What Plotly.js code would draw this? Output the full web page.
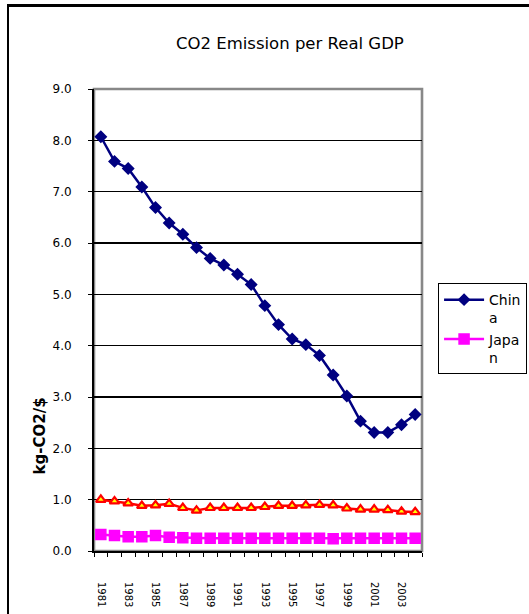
<!DOCTYPE html>
<html>
<head>
<meta charset="utf-8">
<script src="https://cdn.plot.ly/plotly-3.0.1.min.js"></script>
<style>
  html, body { margin: 0; padding: 0; background: #fff; overflow: hidden; }
  #frame { position: absolute; left: 7px; top: 4px; width: 600px; height: 700px;
           border-left: 2px solid #000; border-top: 3px solid #000; pointer-events: none; z-index: 2; }
  #chart { position: absolute; left: 0; top: 0; width: 529px; height: 614px; }
</style>
</head>
<body>
<div id="chart"></div>
<div id="frame"></div>
<script>
// Data
const years = [1981,1982,1983,1984,1985,1986,1987,1988,1989,1990,1991,1992,
               1993,1994,1995,1996,1997,1998,1999,2000,2001,2002,2003,2004];
const labelYears = years.filter((y, i) => i % 2 === 0);
const labelText = labelYears.map(String);
const china = [8.07,7.59,7.45,7.09,6.69,6.39,6.17,5.91,5.70,5.57,5.39,5.19,
               4.78,4.41,4.13,4.02,3.81,3.43,3.02,2.53,2.31,2.31,2.46,2.66];
const japan = [0.32,0.30,0.28,0.28,0.30,0.27,0.26,0.25,0.25,0.25,0.25,0.25,
               0.25,0.25,0.25,0.25,0.25,0.24,0.25,0.25,0.25,0.25,0.25,0.25];
const world = [1.00,0.97,0.93,0.88,0.89,0.92,0.84,0.79,0.84,0.84,0.84,0.84,
               0.86,0.88,0.88,0.89,0.90,0.89,0.83,0.81,0.81,0.80,0.77,0.76];
const seriesNames = ['Chin<br>a', 'Japa<br>n', 'World'];

const FONT = 'DejaVu Sans, Liberation Sans, Arial, sans-serif';

const traces = [
  { x: years, y: world, name: seriesNames[2], type: 'scatter', mode: 'lines+markers',
    showlegend: false,
    line: { color: '#FF0000', width: 2.5 },
    marker: { symbol: 'triangle-up', size: 8.5, color: '#FFFF00', line: { color: '#FF0000', width: 2.2 } } },
  { x: years, y: japan, name: seriesNames[1], type: 'scatter', mode: 'lines+markers',
    line: { color: '#FF00FF', width: 2.5 },
    marker: { symbol: 'square', size: 10, color: '#FF00FF', line: { color: '#FF00FF', width: 1.5 } } },
  { x: years, y: china, name: seriesNames[0], type: 'scatter', mode: 'lines+markers',
    line: { color: '#000080', width: 2.5 },
    marker: { symbol: 'diamond', size: 8, color: '#000080', line: { color: '#000080', width: 1.8 } } }
];

const layout = {
  width: 529, height: 614,
  margin: { l: 94, r: 107, t: 89, b: 63, autoexpand: false },
  paper_bgcolor: 'rgba(0,0,0,0)', plot_bgcolor: '#fff',
  font: { family: FONT, color: '#000', size: 12 },
  showlegend: true,
  title: { text: 'CO2 Emission per Real GDP', font: { family: FONT, size: 16.5, color: '#000' },
           x: 0.548, xref: 'container', xanchor: 'center', y: 0.93, yref: 'container', yanchor: 'middle' },
  xaxis: {
    range: [years[0] - 0.5, years[years.length - 1] + 0.5],
    tickmode: 'array', tickvals: labelYears, ticktext: labelText,
    tickangle: 90, ticks: '', ticklabelstandoff: 27,
    tickfont: { family: FONT, size: 10, color: '#000' },
    showgrid: false, zeroline: false, automargin: false,
    showline: true, linecolor: '#000', linewidth: 2,
    minor: { tickmode: 'linear', tick0: years[0] - 0.5, dtick: 1, ticks: 'outside', ticklen: 4,
             tickcolor: '#000', tickwidth: 1, showgrid: false }
  },
  yaxis: {
    range: [0, 9], dtick: 1, tick0: 0, tickformat: '.1f',
    ticks: 'outside', ticklen: 4, tickcolor: '#000', ticklabelstandoff: 14,
    tickfont: { family: FONT, size: 12, color: '#000' },
    showgrid: true, gridcolor: '#000', gridwidth: 1.2, zeroline: false, automargin: false,
    showline: true, linecolor: '#000', linewidth: 2
  },
  shapes: [
    { type: 'rect', xref: 'x domain', yref: 'y domain', x0: 0, x1: 1, y0: 0, y1: 1,
      line: { color: '#888', width: 2.6 }, layer: 'below' }
  ],
  annotations: [
    { text: '<b>kg-CO2/$</b>', xref: 'paper', yref: 'paper', x: -0.165, y: 0.25,
      xanchor: 'center', yanchor: 'middle', textangle: -90, showarrow: false,
      font: { family: FONT, size: 15, color: '#000' } }
  ],
  legend: {
    x: 1.049, y: 0.58, xanchor: 'left', yanchor: 'top',
    bordercolor: '#000', borderwidth: 1, bgcolor: '#fff',
    font: { family: FONT, size: 14, color: '#000' },
    valign: 'top', traceorder: 'reversed', itemwidth: 40, tracegroupgap: 4
  }
};

Plotly.newPlot('chart', traces, layout, { displayModeBar: false, staticPlot: true });
</script>
</body>
</html>
